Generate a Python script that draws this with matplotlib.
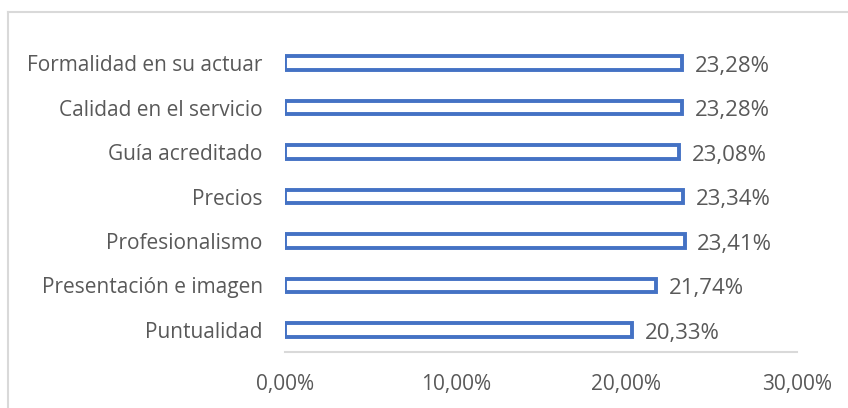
import matplotlib
matplotlib.use("Agg")
import matplotlib.pyplot as plt
from matplotlib.lines import Line2D

categories = [
    "Puntualidad",
    "Presentación e imagen",
    "Profesionalismo",
    "Precios",
    "Guía acreditado",
    "Calidad en el servicio",
    "Formalidad en su actuar",
]
values = [20.33, 21.74, 23.41, 23.34, 23.08, 23.28, 23.28]
xticks = [0, 10, 20, 30]

BLUE = "#4472C4"
TEXT = "#595959"
GRID = "#D9D9D9"

plt.rcParams["font.family"] = ["Open Sans", "DejaVu Sans"]

W, H = 848, 408
fig = plt.figure(figsize=(W / 100, H / 100), dpi=100)
ax = fig.add_axes([285 / W, (H - 352.25) / H, (797 - 285) / W, (352.25 - 40.75) / H])

ypos = range(len(categories))
ax.barh(ypos, values, height=0.31, color="white", edgecolor=BLUE, linewidth=2.8)

def fmt(v):
    return f"{v:.2f}".replace(".", ",") + "%"

for y, v in zip(ypos, values):
    ax.annotate(fmt(v), (v, y), xytext=(9, -2.5), textcoords="offset points",
                va="center", ha="left", fontsize=16, color=TEXT)

ax.set_xlim(0, 30)
ax.set_ylim(-0.5, len(categories) - 0.5)
ax.set_xticks(xticks)
ax.set_xticklabels([fmt(t) for t in xticks], fontsize=15, color=TEXT)
ax.set_yticks(list(ypos))
ax.set_yticklabels(categories, fontsize=15, color=TEXT)
ax.tick_params(axis="both", length=0)
ax.tick_params(axis="x", pad=16)
ax.tick_params(axis="y", pad=16)

for s in ["top", "right", "left"]:
    ax.spines[s].set_visible(False)
ax.spines["bottom"].set_color(GRID)
ax.spines["bottom"].set_linewidth(1.5)

# chart frame (top and left edges)
fig.add_artist(Line2D([8 / W, 1.0], [(H - 12) / H] * 2, color=GRID, lw=1.5,
                      transform=fig.transFigure))
fig.add_artist(Line2D([8 / W] * 2, [0, (H - 12) / H], color=GRID, lw=1.5,
                      transform=fig.transFigure))

fig.savefig("out.png", dpi=100)
